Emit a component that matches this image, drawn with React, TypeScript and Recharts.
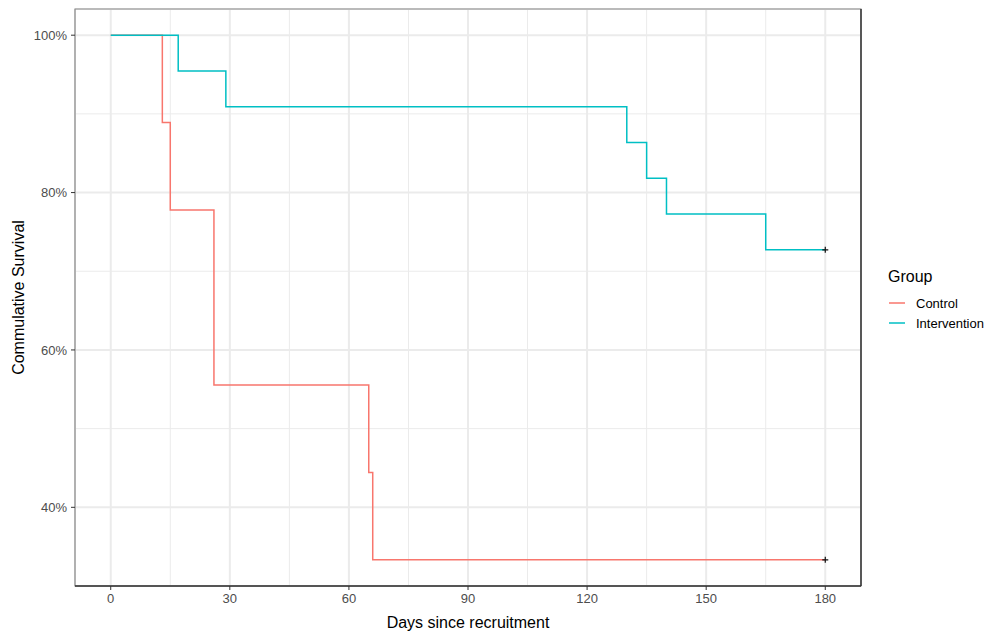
import { LineChart, Line, XAxis, YAxis, CartesianGrid, ReferenceArea, ReferenceLine } from 'recharts';

// Kaplan-Meier steps (day of event, survival % after it)
const controlDays = [0, 13, 15, 26, 65, 66, 180];
const controlSurv = [100, 88.89, 77.78, 55.56, 44.44, 33.33, 33.33];
const interventionDays = [0, 17, 29, 130, 135, 140, 165, 180];
const interventionSurv = [100, 95.45, 90.91, 86.36, 81.82, 77.27, 72.73, 72.73];

const groups = ['Control', 'Intervention'];
const groupColors = ['#F8766D', '#00BFC4'];

const xTicks = [0, 30, 60, 90, 120, 150, 180];
const xMinor = [15, 45, 75, 105, 135, 165];
const yTicks = [40, 60, 80, 100];
const yMinor = [50, 70, 90];

const controlData = controlDays.map((d, i) => ({ day: d, surv: controlSurv[i] }));
const interventionData = interventionDays.map((d, i) => ({ day: d, surv: interventionSurv[i] }));

const FONT = '"Liberation Sans", Arial, sans-serif';
const X_DOMAIN = [-9, 189];
const Y_DOMAIN = [30, 103.33];

const censorDot = (last: number) => (props: any) => {
    const { cx, cy, index } = props;
    if (index !== last) return <g key={`d-${index}`} />;
    return (
        <path key={`d-${index}`} d={`M${cx - 3},${cy}H${cx + 3}M${cx},${cy - 3}V${cy + 3}`} stroke="#111" strokeWidth={1.2} />
    );
};

function GroupLegend() {
    return (
        <div style={{ position: 'absolute', left: 888, top: 268, fontFamily: FONT, color: '#000' }}>
            <div style={{ fontSize: 16, marginBottom: 7 }}>Group</div>
            {groups.map((g, i) => (
                <div key={g} style={{ display: 'flex', alignItems: 'center', height: 20, fontSize: 13 }}>
                    <svg width={18} height={20}>
                        <line x1={1} x2={17} y1={10} y2={10} stroke={groupColors[i]} strokeWidth={1.5} />
                    </svg>
                    <span style={{ marginLeft: 10 }}>{g}</span>
                </div>
            ))}
        </div>
    );
}

export default function App() {
    return (
        <div style={{ position: 'absolute', left: 0, top: 0, width: 985, height: 632, background: '#fff' }}>
            <LineChart width={985} height={632} margin={{ top: 9, right: 124, left: 0, bottom: 0 }}>
                <XAxis xAxisId="minor" dataKey="day" type="number" domain={X_DOMAIN} ticks={xMinor} hide allowDataOverflow />
                <YAxis yAxisId="minor" type="number" domain={Y_DOMAIN} ticks={yMinor} hide allowDataOverflow />
                <CartesianGrid xAxisId="minor" yAxisId="minor" stroke="#EBEBEB" strokeWidth={1} />
                <CartesianGrid stroke="#EBEBEB" strokeWidth={2} />
                <XAxis
                    dataKey="day"
                    type="number"
                    domain={X_DOMAIN}
                    ticks={xTicks}
                    allowDataOverflow
                    height={46}
                    axisLine={false}
                    tickSize={4}
                    tickMargin={4}
                    tickLine={{ stroke: '#333' }}
                    tick={{ fill: '#4D4D4D', fontSize: 13, fontFamily: FONT }}
                    label={{ value: 'Days since recruitment', position: 'insideBottom', offset: 4, fill: '#000', fontSize: 16, fontFamily: FONT }}
                />
                <YAxis
                    type="number"
                    domain={Y_DOMAIN}
                    ticks={yTicks}
                    allowDataOverflow
                    width={75}
                    axisLine={false}
                    tickSize={4}
                    tickMargin={4}
                    tickLine={{ stroke: '#333' }}
                    tickFormatter={(v: number) => `${v}%`}
                    tick={{ fill: '#4D4D4D', fontSize: 13, fontFamily: FONT }}
                    label={{
                        value: 'Commulative Survival',
                        content: (p: any) => {
                            const vb = p.viewBox;
                            const y = vb.y + vb.height / 2;
                            return (
                                <text x={24} y={y} transform={`rotate(-90, 24, ${y})`} textAnchor="middle" fontSize={16} fontFamily={FONT} fill="#000">
                                    Commulative Survival
                                </text>
                            );
                        },
                    }}
                />
                <ReferenceArea x1={X_DOMAIN[0]} x2={X_DOMAIN[1]} y1={Y_DOMAIN[0]} y2={Y_DOMAIN[1]} fill="none" stroke="#8a8a8a" strokeWidth={1.2} />
                <ReferenceLine x={X_DOMAIN[1]} stroke="#333" strokeWidth={1.4} />
                <ReferenceLine y={Y_DOMAIN[0]} stroke="#333" strokeWidth={1.4} />
                <Line
                    data={controlData}
                    dataKey="surv"
                    name="Control"
                    type="stepAfter"
                    stroke={groupColors[0]}
                    strokeWidth={1.5}
                    dot={censorDot(controlData.length - 1)}
                    activeDot={false}
                    isAnimationActive={false}
                />
                <Line
                    data={interventionData}
                    dataKey="surv"
                    name="Intervention"
                    type="stepAfter"
                    stroke={groupColors[1]}
                    strokeWidth={1.5}
                    dot={censorDot(interventionData.length - 1)}
                    activeDot={false}
                    isAnimationActive={false}
                />
            </LineChart>
            <GroupLegend />
        </div>
    );
}
